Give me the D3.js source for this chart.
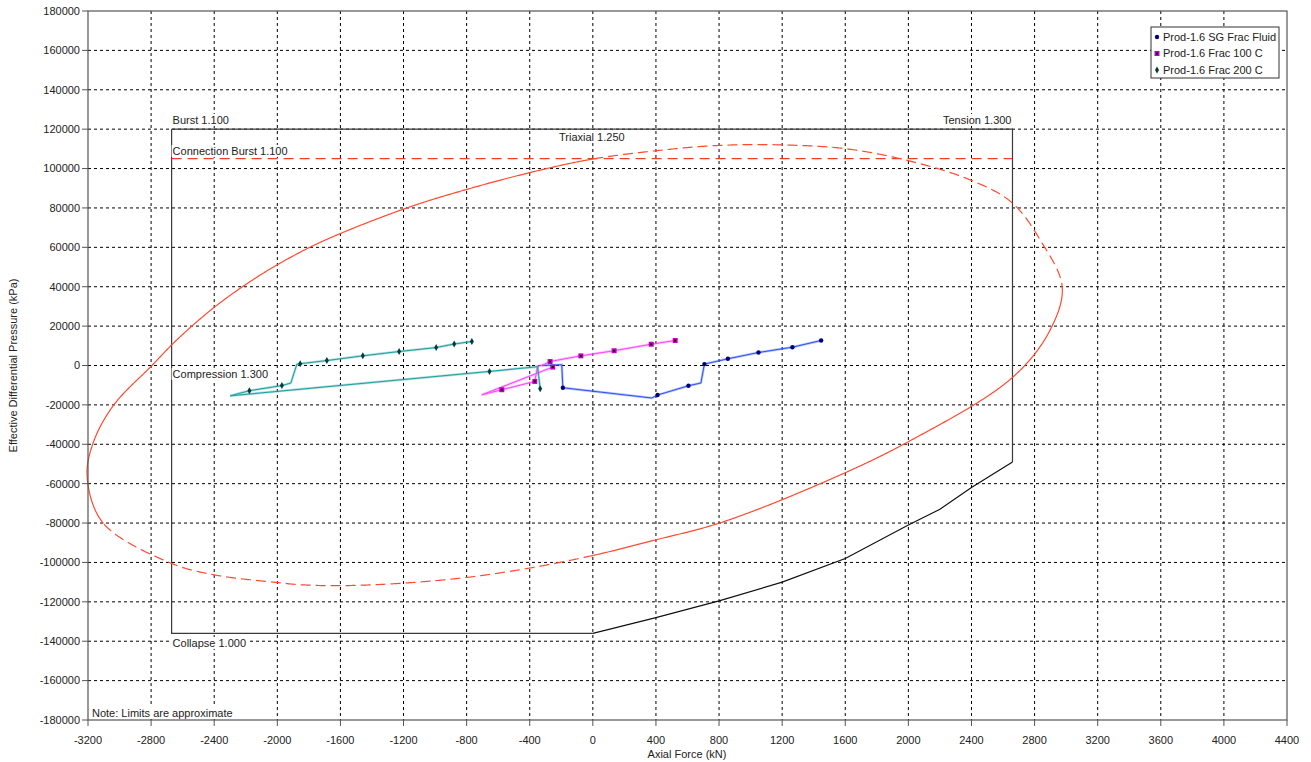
<!DOCTYPE html>
<meta charset="utf-8">
<style>
body { margin: 0; background: #fff; }
svg { display: block; font-family: 'Liberation Sans', Arial, sans-serif; }
.grid line { stroke: #000; stroke-dasharray: 3,3; stroke-width: 1; }
.tick-label { font-size: 11px; fill: #222; }
.lbl { font-size: 11px; fill: #222; }
</style>
<body>
<div id="chart"></div>
<script src="https://cdn.jsdelivr.net/npm/d3@7"></script>
<script>
// axis ticks
var xTicks = [-3200,-2800,-2400,-2000,-1600,-1200,-800,-400,0,400,800,1200,1600,2000,2400,2800,3200,3600,4000,4400];
var yTicks = [180000,160000,140000,120000,100000,80000,60000,40000,20000,0,-20000,-40000,-60000,-80000,-100000,-120000,-140000,-160000,-180000];

// design limits
var burstLimit = 120000, connBurstLimit = 105000, collapseLimit = -136000;
var compressionLimit = -2670, tensionLimit = 2660;
var collapseCurve = [[0,-136000],[400,-128000],[800,-119500],[1200,-110000],[1600,-98000],[2000,-81000],[2200,-73000],[2400,-62000],[2660,-49000]];

var triaxLoop = [[-3104,-80000],[-3205,-57000],[-3170,-39900],[-3041,-20500],[-2795,0],[-2637,13000],[-2407,29100],[-2193,41500],[-2003,51000],[-1729,62500],[-1200,79400],[-800,89400],[-334,99200],[4,104900],
  [406,109100],[786,111700],[1206,112000],[1610,110000],[2000,104000],[2400,94000],[2658,82600],[2835,63800],[2975,40000],
  [2899,18100],[2658,-6200],[2000,-38700],[1442,-60000],[807,-79900],[401,-88500],[4,-96400],
  [-397,-102800],[-799,-107600],[-1200,-110500],[-1602,-111800],[-1855,-111300],[-2001,-110200],[-2407,-106200],[-2686,-100000]];
var triaxBreaks = [0, 13, 22, 29];

// load lines: [axial force, pressure, has marker]
var sgFracFluid = [[1447,12700,1],[1265,9300,1],[1050,6600,1],[856,3400,1],[707,700,1],[685,-8900,0],[606,-10300,1],[410,-15000,1],[374,-16500,0],[-190,-11300,1],[-197,400,0],[-323,0,0]];
var frac100 = [[522,12700,1],[370,10800,1],[135,7500,1],[-76,4900,1],[-271,2000,1],[-313,400,0],[-350,-500,0],[-368,-8100,1],[-577,-12300,1],[-704,-14900,0],[-254,-800,1]];
var frac200 = [[-767,12200,1],[-879,10900,1],[-993,9100,1],[-1228,7100,1],[-1458,4900,1],[-1686,2500,1],[-1855,900,1],[-1876,700,0],[-1914,-8900,0],[-1971,-10200,1],[-2177,-12800,1],[-2299,-15400,0],[-655,-3000,1],[-350,-600,0],[-334,-11800,1]];

var seriesNames = ['Prod-1.6 SG Frac Fluid', 'Prod-1.6 Frac 100 C', 'Prod-1.6 Frac 200 C'];

var W = 1311, H = 762;
var svg = d3.select('#chart').append('svg').attr('width', W).attr('height', H);

var x = d3.scaleLinear().domain([-3200, 4400]).range([88, 1287]);
var y = d3.scaleLinear().domain([-180000, 180000]).range([720, 11]);

// grid
var grid = svg.append('g').attr('class', 'grid');
grid.selectAll('.gx').data(xTicks.slice(1, -1)).enter().append('line')
  .attr('x1', d => x(d)).attr('x2', d => x(d)).attr('y1', y(180000)).attr('y2', y(-180000));
grid.selectAll('.gy').data(yTicks.slice(1, -1)).enter().append('line')
  .attr('y1', d => y(d)).attr('y2', d => y(d)).attr('x1', x(-3200)).attr('x2', x(4400));

var line = d3.line().x(d => x(d[0])).y(d => y(d[1]));

// envelope
var env = svg.append('g').attr('fill', 'none').attr('stroke', '#3a3a3a').attr('stroke-width', 1.2);
env.append('path').attr('d', line([[compressionLimit, burstLimit],[tensionLimit, burstLimit],[tensionLimit, collapseCurve[collapseCurve.length-1][1]]]));
env.append('path').attr('d', line([[compressionLimit, burstLimit],[compressionLimit, collapseLimit],[0, collapseLimit]]));
env.append('path').attr('d', line(collapseCurve)).attr('stroke', '#111');

svg.append('path').attr('d', line([[compressionLimit, connBurstLimit],[tensionLimit, connBurstLimit]]))
  .attr('fill', 'none').attr('stroke', '#e8402a').attr('stroke-width', 1.2).attr('stroke-dasharray', '10,6');

// triaxial ellipse: smooth closed curve, then cut into solid / dashed arcs
var loopCurve = d3.line().x(d => x(d[0])).y(d => y(d[1])).curve(d3.curveCatmullRomClosed);
var tmp = svg.append('path').attr('d', loopCurve(triaxLoop)).attr('fill', 'none').attr('stroke', 'none');
var L = tmp.node().getTotalLength(), pts = [];
for (var s = 0; s < L; s += 1) pts.push(tmp.node().getPointAtLength(s));
tmp.remove();
var cut = triaxBreaks.map(function(i) {
  var px = x(triaxLoop[i][0]), py = y(triaxLoop[i][1]);
  return d3.minIndex(pts, p => (p.x - px) * (p.x - px) + (p.y - py) * (p.y - py));
});
var pline = d3.line().x(p => p.x).y(p => p.y);
var dashes = [null, '10,5', null, '10,5'];
cut.forEach(function(a, k) {
  var b = cut[(k + 1) % cut.length];
  var seg = b > a ? pts.slice(a, b + 1) : pts.slice(a).concat(pts.slice(0, b + 1));
  svg.append('path').attr('d', pline(seg))
    .attr('fill', 'none').attr('stroke', '#ff4a30').attr('stroke-width', 1.2)
    .attr('stroke-dasharray', dashes[k]);
});

// series
var series = [
  {data: sgFracFluid, color: '#2e52f0', mark: '#00007a', shape: 'circle'},
  {data: frac100, color: '#ff44ff', mark: '#c000c0', shape: 'square'},
  {data: frac200, color: '#1f9e9e', mark: '#003c3c', shape: 'diamond'}
];

function drawMarker(g, shape, cx, cy, col) {
  if (shape === 'circle') {
    g.append('circle').attr('cx', cx).attr('cy', cy).attr('r', 2.2).attr('fill', col);
  } else if (shape === 'square') {
    g.append('rect').attr('x', cx - 2.5).attr('y', cy - 2.5).attr('width', 5).attr('height', 5).attr('fill', col);
    g.append('rect').attr('x', cx - 1).attr('y', cy - 1).attr('width', 2).attr('height', 2).attr('fill', '#000');
  } else {
    g.append('path').attr('d', 'M' + cx + ',' + (cy - 3.5) + 'L' + (cx + 2) + ',' + cy + 'L' + cx + ',' + (cy + 3.5) + 'L' + (cx - 2) + ',' + cy + 'Z').attr('fill', col);
  }
}

series.forEach(function(s) {
  var g = svg.append('g');
  g.append('path').attr('d', line(s.data)).attr('fill', 'none')
    .attr('stroke', s.color).attr('stroke-opacity', 0.35).attr('stroke-width', 2.5);
  g.append('path').attr('d', line(s.data)).attr('fill', 'none')
    .attr('stroke', s.color).attr('stroke-width', 1);
  s.data.filter(d => d[2]).forEach(function(d) {
    drawMarker(g, s.shape, x(d[0]), y(d[1]), s.mark);
  });
});

// limit labels (white backing hides the lines behind)
function label(txt, px, py, anchor) {
  var t = svg.append('text').attr('class', 'lbl').attr('x', px).attr('y', py)
    .attr('text-anchor', anchor || 'start').attr('dominant-baseline', 'middle').text(txt);
  var b = t.node().getBBox();
  svg.insert('rect', function() { return t.node(); })
    .attr('x', b.x - 1).attr('y', b.y).attr('width', b.width + 2).attr('height', b.height).attr('fill', '#fff');
}
label('Burst 1.100', x(compressionLimit) + 1, 121);
label('Connection Burst 1.100', x(compressionLimit) + 1, 152);
label('Triaxial 1.250', 559, 138);
label('Tension 1.300', x(tensionLimit) - 1, 121, 'end');
label('Compression 1.300', x(compressionLimit) + 1, 375);
label('Collapse 1.000', x(compressionLimit) + 1, 644);
label('Note: Limits are approximate', 92, 714);

// frame and axes
svg.append('rect').attr('x', x(-3200)).attr('y', y(180000))
  .attr('width', x(4400) - x(-3200)).attr('height', y(-180000) - y(180000))
  .attr('fill', 'none').attr('stroke', '#555').attr('stroke-width', 1.2);

var xAxis = svg.append('g');
xTicks.forEach(function(t) {
  xAxis.append('line').attr('x1', x(t)).attr('x2', x(t)).attr('y1', 720).attr('y2', 726).attr('stroke', '#555');
  xAxis.append('text').attr('class', 'tick-label').attr('x', x(t)).attr('y', 744).attr('text-anchor', 'middle').text(t);
});
var yAxis = svg.append('g');
yTicks.forEach(function(t) {
  yAxis.append('line').attr('x1', 82).attr('x2', 88).attr('y1', y(t)).attr('y2', y(t)).attr('stroke', '#555');
  yAxis.append('text').attr('class', 'tick-label').attr('x', 80).attr('y', y(t)).attr('dy', '0.35em').attr('text-anchor', 'end').text(t);
});

svg.append('text').attr('class', 'lbl').attr('x', 687).attr('y', 758).attr('text-anchor', 'middle').text('Axial Force (kN)');
svg.append('text').attr('class', 'lbl').attr('transform', 'translate(17,' + y(0) + ') rotate(-90)')
  .attr('text-anchor', 'middle').text('Effective Differential Pressure (kPa)');

// legend
var leg = svg.append('g');
leg.append('rect').attr('x', 1151).attr('y', 27).attr('width', 128).attr('height', 51)
  .attr('fill', '#fff').attr('stroke', '#333');
series.forEach(function(s, i) {
  drawMarker(leg, s.shape, 1157, 37 + i * 16.5, s.mark);
  leg.append('text').attr('class', 'lbl').attr('x', 1163).attr('y', 37 + i * 16.5)
    .attr('dy', '0.35em').text(seriesNames[i]);
});
</script>
</body>
